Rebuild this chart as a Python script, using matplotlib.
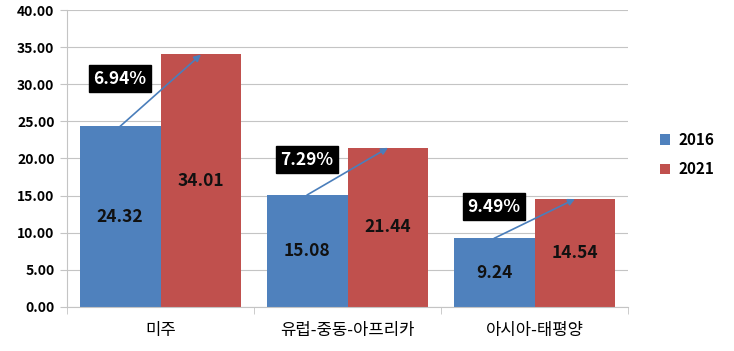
import matplotlib.pyplot as plt
import numpy as np

plt.rcParams['font.family'] = ['Noto Sans CJK KR', 'DejaVu Sans']

# data
regions = ['미주', '유럽-중동-아프리카', '아시아-태평양']
v2016 = [24.32, 15.08, 9.24]
v2021 = [34.01, 21.44, 14.54]
growth = ['6.94%', '7.29%', '9.49%']
years = ['2016', '2021']

blue = '#4F81BD'
red = '#C0504D'
grid_c = '#C4C4C4'

fig = plt.figure(figsize=(7.34, 3.51), dpi=100)
ax = fig.add_axes([0.0913, 0.1254, 0.7643, 0.8461])

x = np.arange(len(regions))
w = 0.433
b1 = ax.bar(x - w / 2, v2016, w, color=blue, label=years[0], zorder=2)
b2 = ax.bar(x + w / 2, v2021, w, color=red, label=years[1], zorder=2)

for xi, a, b, g in zip(x, v2016, v2021, growth):
    ax.text(xi - w / 2, a / 2, f'{a:.2f}', ha='center', va='center',
            fontsize=12.5, fontweight='bold', color='#111111', zorder=4)
    ax.text(xi + w / 2, b / 2, f'{b:.2f}', ha='center', va='center',
            fontsize=12.5, fontweight='bold', color='#111111', zorder=4)
    ax.annotate('', xy=(xi + w / 2, b), xytext=(xi - w / 2, a),
                arrowprops=dict(arrowstyle='-|>', color='#4A7EBB', lw=1.2,
                                mutation_scale=10, shrinkA=0, shrinkB=0),
                zorder=5)
    ax.text(xi - w / 2, (a + b) / 2 + 1.6, g, ha='center', va='center',
            fontsize=12.5, fontweight='bold', color='white', zorder=6,
            bbox=dict(boxstyle='square,pad=0.25', fc='black', ec='black'))

ax.set_xlim(-0.5, len(regions) - 0.5)
ax.set_ylim(0, 40)
ax.set_yticks(np.arange(0, 41, 5))
ax.set_yticklabels([f'{t:.2f}' for t in np.arange(0, 41, 5)],
                   fontsize=10, fontweight='bold')
ax.set_xticks(x)
ax.set_xticklabels(regions, fontsize=12)
ax.set_xticks(np.arange(-0.5, len(regions), 1), minor=True)
ax.tick_params(axis='x', which='major', length=0, pad=11)
ax.tick_params(axis='x', which='minor', length=5, color=grid_c)
ax.tick_params(axis='y', length=5, color=grid_c, pad=4)
ax.yaxis.grid(True, color=grid_c, lw=0.8, zorder=0)
ax.set_axisbelow(True)
for s in ['top', 'right']:
    ax.spines[s].set_visible(False)
ax.spines['left'].set_color(grid_c)
ax.spines['bottom'].set_color(grid_c)

leg = fig.legend(handles=[b1, b2], loc='center left',
                 bbox_to_anchor=(0.88, 0.56), frameon=False,
                 prop={'size': 11, 'weight': 'bold'},
                 handlelength=0.7, handleheight=0.7, handletextpad=0.5,
                 labelspacing=0.9)

fig.savefig('out.png', dpi=100)
